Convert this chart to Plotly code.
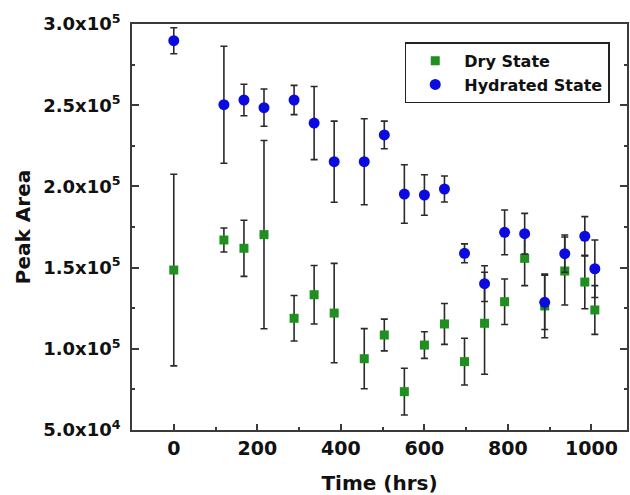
import plotly.graph_objects as go

# Time points (hrs)
time_hrs = [0, 120, 168, 216, 288, 336, 384, 456, 504, 552, 600, 648, 696, 744, 792, 840, 888, 936, 984, 1008]

# Dry state peak area and error
dry_vals = [148500, 167000, 161900, 170300, 118800, 133300, 122000, 93900, 108500, 73600,
            102300, 115300, 92100, 115700, 129000, 155700, 126400, 147900, 141100, 123900]
dry_err = [59000, 7400, 17300, 58000, 14000, 18000, 30600, 18500, 9800, 14400,
           8200, 12600, 14400, 31400, 14000, 16800, 19600, 20900, 16400, 15000]

# Hydrated state peak area and error
hyd_vals = [289700, 250300, 253200, 248500, 253200, 239000, 215200, 215200, 231700, 195300,
            194700, 198400, 158800, 140100, 171700, 170900, 128600, 158600, 169300, 149300]
hyd_err = [8000, 36000, 9700, 11500, 9000, 22500, 25000, 26500, 8500, 18000,
           12500, 8000, 5800, 11000, 13800, 12500, 16700, 11500, 12100, 17700]

ytick_vals = [50000, 100000, 150000, 200000, 250000, 300000]
ytick_text = ["5.0x10<sup>4</sup>", "1.0x10<sup>5</sup>", "1.5x10<sup>5</sup>",
              "2.0x10<sup>5</sup>", "2.5x10<sup>5</sup>", "3.0x10<sup>5</sup>"]
xtick_vals = [0, 200, 400, 600, 800, 1000]

FONT = "DejaVu Sans"
ERR_COLOR = "#2a2a2a"
AX_COLOR = "#3a3a3a"

fig = go.Figure()
fig.add_trace(go.Scatter(
    x=time_hrs, y=dry_vals, mode="markers", name="Dry State",
    marker=dict(symbol="square", size=9, color="#1f8f1f", line=dict(width=0)),
    error_y=dict(type="data", array=dry_err, visible=True, color=ERR_COLOR, thickness=1.6, width=3.5),
))
fig.add_trace(go.Scatter(
    x=time_hrs, y=hyd_vals, mode="markers", name="Hydrated State",
    marker=dict(symbol="circle", size=11, color="#0b0be0", line=dict(width=0)),
    error_y=dict(type="data", array=hyd_err, visible=True, color=ERR_COLOR, thickness=1.6, width=3.5),
))

fig.update_layout(
    width=630, height=495,
    margin=dict(l=132, r=1, t=24, b=65),
    paper_bgcolor="white", plot_bgcolor="white",
    font=dict(family=FONT, color="#111111"),
    showlegend=True,
    legend=dict(
        x=0.551, y=0.955, xanchor="left", yanchor="top",
        bgcolor="white", bordercolor="#222222", borderwidth=1.5,
        font=dict(family=FONT, size=16, weight="bold", color="#111111"),
        itemwidth=48,
        tracegroupgap=4,
    ),
)

fig.update_xaxes(
    range=[-100, 1085],
    tickvals=xtick_vals,
    ticks="inside", ticklen=6, tickwidth=1.5, tickcolor=AX_COLOR,
    minor=dict(dtick=100, tick0=0, ticks="inside", ticklen=3.5, tickwidth=1.5, tickcolor=AX_COLOR),
    showline=True, linecolor=AX_COLOR, linewidth=1.8, mirror=True,
    showgrid=False, zeroline=False,
    tickfont=dict(family=FONT, size=19, weight="bold", color="#111111"),
    title=dict(text="Time (hrs)", font=dict(family=FONT, size=20, weight="bold", color="#111111"), standoff=18),
)
fig.update_yaxes(
    range=[50000, 300000],
    tickvals=ytick_vals, ticktext=ytick_text,
    ticks="inside", ticklen=7, tickwidth=1.5, tickcolor=AX_COLOR,
    minor=dict(dtick=25000, tick0=0, ticks="inside", ticklen=3.5, tickwidth=1.5, tickcolor=AX_COLOR),
    showline=True, linecolor=AX_COLOR, linewidth=1.8, mirror="ticks",
    showgrid=False, zeroline=False,
    tickfont=dict(family=FONT, size=18, weight="bold", color="#111111"),
    ticklabelstandoff=6,
    title=dict(text="Peak Area", font=dict(family=FONT, size=20, weight="bold", color="#111111"), standoff=7),
)

fig.write_html("out.html")
